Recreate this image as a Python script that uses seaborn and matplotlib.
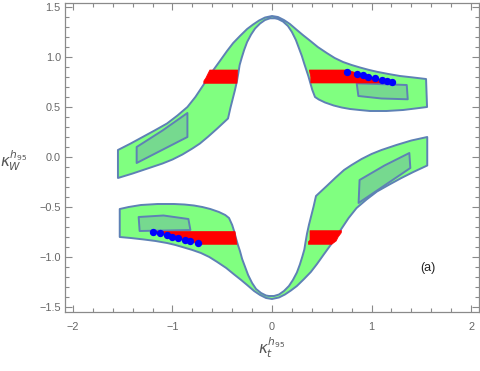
import matplotlib
matplotlib.use("Agg")
import matplotlib.pyplot as plt
from matplotlib.ticker import MultipleLocator
import seaborn as sns
import pandas as pd

# ---------------- data ----------------
# upper allowed band: outer edge (left -> right), then inner edge (right -> left)
upper_outer_x = [-1.548, -1.42, -1.30, -1.18, -1.055, -0.95, -0.85, -0.77, -0.683, -0.60,
                 -0.52, -0.452, -0.39, -0.322, -0.25, -0.19, -0.13, -0.07, 0.0, 0.06,
                 0.12, 0.18, 0.25, 0.31, 0.38, 0.46, 0.55, 0.63, 0.714, 0.80,
                 0.884, 0.97, 1.055, 1.17, 1.286, 1.42, 1.548]
upper_outer_y = [0.07, 0.135, 0.20, 0.265, 0.335, 0.415, 0.50, 0.60, 0.73, 0.855,
                 0.965, 1.06, 1.14, 1.21, 1.28, 1.325, 1.365, 1.395, 1.41, 1.40,
                 1.37, 1.33, 1.27, 1.22, 1.165, 1.10, 1.04, 0.99, 0.95, 0.92,
                 0.895, 0.872, 0.852, 0.83, 0.81, 0.795, 0.78]
upper_inner_x = [1.558, 1.44, 1.317, 1.15, 0.985, 0.88, 0.784, 0.70, 0.62, 0.533,
                 0.47, 0.432, 0.405, 0.385, 0.365, 0.345, 0.325, 0.30, 0.27, 0.24,
                 0.20, 0.16, 0.11, 0.06, 0.03, -0.02, -0.07, -0.12, -0.17, -0.21,
                 -0.25, -0.28, -0.305, -0.325, -0.338, -0.352, -0.372, -0.395, -0.418, -0.442,
                 -0.55, -0.64, -0.724, -0.80, -0.90, -1.00, -1.10, -1.25, -1.40, -1.548]
upper_inner_y = [0.50, 0.485, 0.47, 0.46, 0.46, 0.47, 0.48, 0.495, 0.515, 0.545,
                 0.575, 0.60, 0.67, 0.74, 0.81, 0.87, 0.93, 1.01, 1.09, 1.17,
                 1.25, 1.31, 1.355, 1.38, 1.387, 1.387, 1.37, 1.335, 1.285, 1.225,
                 1.15, 1.07, 0.99, 0.92, 0.84, 0.76, 0.67, 0.58, 0.49, 0.385,
                 0.285, 0.205, 0.135, 0.085, 0.025, -0.025, -0.065, -0.115, -0.165, -0.21]

# lower allowed band: outer edge (right -> left), then inner edge (left -> right)
lower_outer_x = [1.56, 1.42, 1.30, 1.18, 1.055, 0.95, 0.85, 0.77, 0.683, 0.60,
                 0.52, 0.452, 0.39, 0.322, 0.25, 0.19, 0.13, 0.07, 0.0, -0.06,
                 -0.12, -0.18, -0.25, -0.31, -0.38, -0.46, -0.55, -0.63, -0.714, -0.80,
                 -0.884, -0.97, -1.055, -1.17, -1.286, -1.42, -1.53]
lower_outer_y = [-0.085, -0.15, -0.21, -0.275, -0.345, -0.425, -0.51, -0.61, -0.74, -0.865,
                 -0.975, -1.07, -1.15, -1.22, -1.29, -1.335, -1.375, -1.405, -1.42, -1.41,
                 -1.38, -1.34, -1.28, -1.23, -1.175, -1.11, -1.05, -1.0, -0.96, -0.93,
                 -0.905, -0.88, -0.86, -0.84, -0.825, -0.81, -0.80]
lower_inner_x = [-1.53, -1.44, -1.317, -1.15, -0.985, -0.88, -0.784, -0.70, -0.62, -0.533,
                 -0.47, -0.432, -0.40, -0.378, -0.36, -0.342, -0.322, -0.30, -0.27, -0.24,
                 -0.20, -0.16, -0.11, -0.06, -0.03, 0.02, 0.07, 0.12, 0.17, 0.21,
                 0.25, 0.28, 0.305, 0.325, 0.338, 0.352, 0.372, 0.395, 0.418, 0.442,
                 0.55, 0.64, 0.724, 0.80, 0.90, 1.00, 1.10, 1.25, 1.40, 1.56]
lower_inner_y = [-0.52, -0.50, -0.48, -0.47, -0.47, -0.475, -0.485, -0.50, -0.52, -0.55,
                 -0.58, -0.61, -0.68, -0.75, -0.82, -0.88, -0.94, -1.02, -1.10, -1.18,
                 -1.26, -1.32, -1.36, -1.385, -1.39, -1.39, -1.375, -1.34, -1.29, -1.23,
                 -1.155, -1.075, -0.995, -0.925, -0.845, -0.765, -0.675, -0.585, -0.495, -0.39,
                 -0.29, -0.205, -0.13, -0.08, -0.02, 0.03, 0.07, 0.12, 0.165, 0.20]

# darker (overlap) regions
box_ul_x = [-1.36, -1.10, -0.85, -0.85, -1.36]
box_ul_y = [0.10, 0.265, 0.44, 0.20, -0.06]
box_ur_x = [0.851, 1.354, 1.364, 1.10, 0.868]
box_ur_y = [0.737, 0.72, 0.577, 0.585, 0.61]
box_ll_x = [-1.34, -1.09, -0.84, -0.82, -1.33]
box_ll_y = [-0.60, -0.585, -0.62, -0.73, -0.74]
box_lr_x = [0.88, 1.13, 1.38, 1.39, 0.87]
box_lr_y = [-0.23, -0.085, 0.04, -0.11, -0.46]

# red bands
red_ul_x = [-0.625, -0.345, -0.352, -0.685, -0.685, -0.665, -0.645, -0.630]
red_ul_y = [0.870, 0.870, 0.737, 0.737, 0.760, 0.790, 0.830, 0.860]
red_ur_x = [0.375, 0.750, 1.200, 0.390, 0.390]
red_ur_y = [0.870, 0.870, 0.740, 0.740, 0.800]
red_ll_x = [-1.190, -0.372, -0.352, -0.720]
red_ll_y = [-0.745, -0.745, -0.873, -0.873]
red_lr_x = [0.382, 0.700, 0.695, 0.665, 0.645, 0.600, 0.365, 0.365, 0.382]
red_lr_y = [-0.737, -0.737, -0.760, -0.800, -0.840, -0.873, -0.873, -0.850, -0.830]

# blue points
blue_x = [0.754, 0.854, 0.915, 0.965, 1.035, 1.106, 1.156, 1.206,
          -1.196, -1.126, -1.055, -1.005, -0.945, -0.874, -0.824, -0.744]
blue_y = [0.85, 0.83, 0.82, 0.80, 0.79, 0.77, 0.76, 0.75,
          -0.75, -0.76, -0.78, -0.80, -0.81, -0.83, -0.84, -0.86]

x_ticks = [-2, -1, 0, 1, 2]
x_tick_labels = ["\u22122", "\u22121", "0", "1", "2"]
y_ticks = [-1.5, -1.0, -0.5, 0.0, 0.5, 1.0, 1.5]
y_tick_labels = ["\u22121.5", "\u22121.0", "\u22120.5", "0.0", "0.5", "1.0", "1.5"]

# ---------------- style ----------------
sns.set_style("white")
plt.rcParams["font.family"] = ["Liberation Sans", "DejaVu Sans"]

GREEN = "#80FF80"
EDGE = "#5E81B5"
DARK = "#76D98F"
FRAME = "#8a8a8a"
TICKTXT = "#666666"

fig = plt.figure(figsize=(4.8, 3.71), dpi=100)
ax = fig.add_axes([65 / 480, 59 / 371, 414 / 480, 309 / 371])

ax.fill(upper_outer_x + upper_inner_x, upper_outer_y + upper_inner_y,
        facecolor=GREEN, edgecolor=EDGE, linewidth=1.4, joinstyle="round", zorder=1)
ax.fill(lower_outer_x + lower_inner_x, lower_outer_y + lower_inner_y,
        facecolor=GREEN, edgecolor=EDGE, linewidth=1.4, joinstyle="round", zorder=1)
for bx, by in [(box_ul_x, box_ul_y), (box_ur_x, box_ur_y), (box_ll_x, box_ll_y), (box_lr_x, box_lr_y)]:
    ax.fill(bx, by, facecolor=DARK, edgecolor=EDGE, linewidth=1.4, joinstyle="round", zorder=2)
for rx, ry in [(red_ul_x, red_ul_y), (red_ur_x, red_ur_y), (red_ll_x, red_ll_y), (red_lr_x, red_lr_y)]:
    ax.fill(rx, ry, facecolor="#FF0000", edgecolor="#FF0000", linewidth=0.5, zorder=3)

df = pd.DataFrame({"x": blue_x, "y": blue_y})
sns.scatterplot(data=df, x="x", y="y", ax=ax, color="#0000FF", s=28, linewidth=0, zorder=4, legend=False)

ax.set_xlim(-2.08, 2.08)
ax.set_ylim(-1.55, 1.54)
ax.set_xticks(x_ticks)
ax.set_xticklabels(x_tick_labels)
ax.set_yticks(y_ticks)
ax.set_yticklabels(y_tick_labels)
ax.xaxis.set_minor_locator(MultipleLocator(0.2))
ax.yaxis.set_minor_locator(MultipleLocator(0.1))

for sp in ax.spines.values():
    sp.set_visible(True)
    sp.set_color(FRAME)
    sp.set_linewidth(0.9)
ax.tick_params(which="both", direction="in", top=True, right=True, bottom=True, left=True,
               color=FRAME, width=0.8, labelcolor=TICKTXT, labelsize=7.8)
ax.tick_params(which="major", length=5)
ax.tick_params(which="minor", length=2.6)
ax.tick_params(axis="x", which="major", pad=7)
ax.tick_params(axis="y", which="major", pad=3)

ax.set_xlabel(r"$\kappa_t^{h_{95}}$", fontsize=11, color="#555555", va="center")
ax.set_ylabel(r"$\kappa_W^{h_{95}}$", fontsize=11, color="#555555", rotation=0, ha="center", va="center")
ax.xaxis.set_label_coords(0.5, -0.115)
ax.yaxis.set_label_coords(-0.125, 0.49)

ax.text(1.57, -1.11, "(a)", fontsize=9, color="#222222", ha="center", va="center")

fig.savefig("out.png", dpi=100)
